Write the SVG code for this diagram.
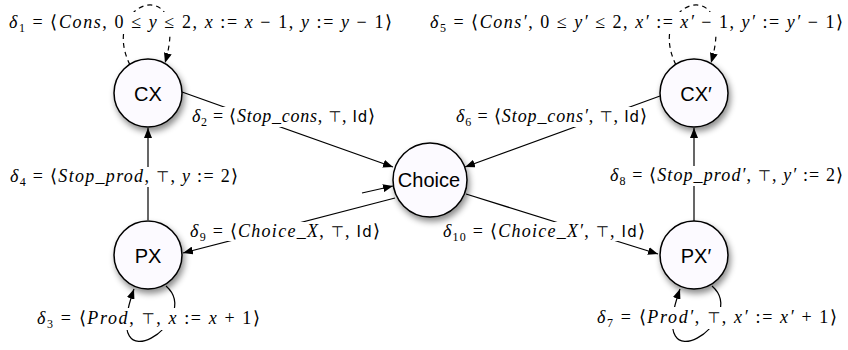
<svg xmlns="http://www.w3.org/2000/svg" width="848" height="350" viewBox="0 0 848 350">
<style>
.bg{fill:#ffffff}
.edge{fill:none;stroke:#000;stroke-width:1.2}
.dash{fill:none;stroke:#000;stroke-width:1.2;stroke-dasharray:5,4}
.node{fill:#fcfaff;stroke:#000;stroke-width:1.5}
.nl{font-family:"Liberation Sans","DejaVu Sans",sans-serif;font-size:20px;fill:#000;text-anchor:middle}
.m{font-family:"Liberation Serif","Times New Roman",serif;font-size:18px;fill:#000}
.i{font-style:italic}
.s{font-family:"DejaVu Sans","Liberation Sans",sans-serif;font-size:15px}
.sub{font-size:12px}
</style>
<defs>
<marker id="ah" viewBox="0 0 10 8" refX="10" refY="4" markerWidth="10" markerHeight="8" orient="auto" markerUnits="userSpaceOnUse"><path d="M0,0 L10,4 L0,8 z" fill="#000"/></marker>
<filter id="sh" x="-40%" y="-40%" width="180%" height="190%"><feDropShadow dx="2" dy="4" stdDeviation="3" flood-color="#000" flood-opacity="0.45"/></filter>
</defs>

<g id="connectors">
<path id="e1" class="dash" d="M130 65 C98 0 192 -28 165 63" marker-end="url(#ah)"/>
<path id="e5" class="dash" d="M676 65 C644 0 738 -28 711 63" marker-end="url(#ah)"/>
<path id="e2" class="edge" d="M182 92 L393 167" marker-end="url(#ah)"/>
<path id="e6" class="edge" d="M660 96 L465 167" marker-end="url(#ah)"/>
<path id="e4" class="edge" d="M148 220 L148 128" marker-end="url(#ah)"/>
<path id="e8" class="edge" d="M694 221 L694 128" marker-end="url(#ah)"/>
<path id="e9" class="edge" d="M395 198 L183 253" marker-end="url(#ah)"/>
<path id="e10" class="edge" d="M466 194 L658 254" marker-end="url(#ah)"/>
<path id="init" class="edge" d="M362 193 L393 186" marker-end="url(#ah)"/>
<path id="e3" class="edge" d="M166 286 C205 320 98 390 134 289" marker-end="url(#ah)"/>
<path id="e7" class="edge" d="M712 286 C751 320 644 390 680 289" marker-end="url(#ah)"/>
</g>

<g id="labels">
<g id="l1"><rect class="bg" x="7" y="12" width="388" height="21"/>
<text class="m" x="9" y="28" textLength="383" lengthAdjust="spacing"><tspan class="i">δ</tspan><tspan class="sub" dy="4">1</tspan><tspan dy="-4"> = ⟨</tspan><tspan class="i">Cons</tspan>, 0 ≤ <tspan class="i">y</tspan> ≤ 2, <tspan class="i">x</tspan> := <tspan class="i">x</tspan> − 1, <tspan class="i">y</tspan> := <tspan class="i">y</tspan> − 1⟩</text></g>
<g id="l5"><rect class="bg" x="428" y="12" width="418" height="21"/>
<text class="m" x="430" y="28" textLength="413" lengthAdjust="spacing"><tspan class="i">δ</tspan><tspan class="sub" dy="4">5</tspan><tspan dy="-4"> = ⟨</tspan><tspan class="i">Cons′</tspan>, 0 ≤ <tspan class="i">y′</tspan> ≤ 2, <tspan class="i">x′</tspan> := <tspan class="i">x′</tspan> − 1, <tspan class="i">y′</tspan> := <tspan class="i">y′</tspan> − 1⟩</text></g>
<g id="l2"><rect class="bg" x="190" y="107" width="187" height="20"/>
<text class="m" x="192" y="122" textLength="183" lengthAdjust="spacing"><tspan class="i">δ</tspan><tspan class="sub" dy="4">2</tspan><tspan dy="-4"> = ⟨</tspan><tspan class="i">Stop_cons</tspan>, <tspan class="s">⊤</tspan>, <tspan class="s">Id</tspan>⟩</text></g>
<g id="l6"><rect class="bg" x="454" y="107" width="195" height="20"/>
<text class="m" x="456" y="122" textLength="191" lengthAdjust="spacing"><tspan class="i">δ</tspan><tspan class="sub" dy="4">6</tspan><tspan dy="-4"> = ⟨</tspan><tspan class="i">Stop_cons′</tspan>, <tspan class="s">⊤</tspan>, <tspan class="s">Id</tspan>⟩</text></g>
<g id="l4"><rect class="bg" x="8" y="167" width="232" height="20"/>
<text class="m" x="10" y="182" textLength="228" lengthAdjust="spacing"><tspan class="i">δ</tspan><tspan class="sub" dy="4">4</tspan><tspan dy="-4"> = ⟨</tspan><tspan class="i">Stop_prod</tspan>, <tspan class="s">⊤</tspan>, <tspan class="i">y</tspan> := 2⟩</text></g>
<g id="l8"><rect class="bg" x="608" y="166" width="238" height="20"/>
<text class="m" x="610" y="181" textLength="233" lengthAdjust="spacing"><tspan class="i">δ</tspan><tspan class="sub" dy="4">8</tspan><tspan dy="-4"> = ⟨</tspan><tspan class="i">Stop_prod′</tspan>, <tspan class="s">⊤</tspan>, <tspan class="i">y′</tspan> := 2⟩</text></g>
<g id="l9"><rect class="bg" x="188" y="222" width="194" height="19"/>
<text class="m" x="190" y="237" textLength="190" lengthAdjust="spacing"><tspan class="i">δ</tspan><tspan class="sub" dy="4">9</tspan><tspan dy="-4"> = ⟨</tspan><tspan class="i">Choice_X</tspan>, <tspan class="s">⊤</tspan>, <tspan class="s">Id</tspan>⟩</text></g>
<g id="l10"><rect class="bg" x="441" y="222" width="206" height="19"/>
<text class="m" x="443" y="237" textLength="202" lengthAdjust="spacing"><tspan class="i">δ</tspan><tspan class="sub" dy="4">10</tspan><tspan dy="-4"> = ⟨</tspan><tspan class="i">Choice_X′</tspan>, <tspan class="s">⊤</tspan>, <tspan class="s">Id</tspan>⟩</text></g>
<g id="l3"><rect class="bg" x="35" y="308" width="227" height="22"/>
<text class="m" x="37" y="324" textLength="223" lengthAdjust="spacing"><tspan class="i">δ</tspan><tspan class="sub" dy="4">3</tspan><tspan dy="-4"> = ⟨</tspan><tspan class="i">Prod</tspan>, <tspan class="s">⊤</tspan>, <tspan class="i">x</tspan> := <tspan class="i">x</tspan> + 1⟩</text></g>
<g id="l7"><rect class="bg" x="595" y="307" width="244" height="22"/>
<text class="m" x="597" y="323" textLength="240" lengthAdjust="spacing"><tspan class="i">δ</tspan><tspan class="sub" dy="4">7</tspan><tspan dy="-4"> = ⟨</tspan><tspan class="i">Prod′</tspan>, <tspan class="s">⊤</tspan>, <tspan class="i">x′</tspan> := <tspan class="i">x′</tspan> + 1⟩</text></g>
</g>

<g id="CX"><circle class="node" cx="148" cy="93" r="34" filter="url(#sh)"/><text class="nl" x="148" y="101">CX</text></g>
<g id="CXp"><circle class="node" cx="694" cy="93" r="34" filter="url(#sh)"/><text class="nl" x="696" y="101">CX′</text></g>
<g id="Choice"><circle class="node" cx="430" cy="180" r="37" filter="url(#sh)"/><text class="nl" x="429" y="187">Choice</text></g>
<g id="PX"><circle class="node" cx="148" cy="255" r="34" filter="url(#sh)"/><text class="nl" x="148" y="263">PX</text></g>
<g id="PXp"><circle class="node" cx="694" cy="255" r="34" filter="url(#sh)"/><text class="nl" x="696" y="263">PX′</text></g>
</svg>
